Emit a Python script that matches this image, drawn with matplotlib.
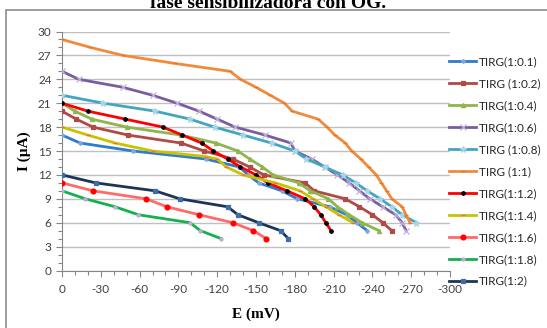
import matplotlib
matplotlib.use("Agg")
import matplotlib.pyplot as plt
from matplotlib.patches import Rectangle
from matplotlib.ticker import MultipleLocator

# ---- data (E in mV, I in uA) ----
e_01 = [0, -14, -55, -111, -137, -144, -152, -170, -182, -207, -220, -228, -236]
i_01 = [17, 16, 15, 14, 13, 12, 11, 10, 9, 8, 7, 6, 5]

e_02 = [0, -11, -24, -51, -92, -110, -132, -145, -156, -188, -195, -219, -230, -240, -248, -255]
i_02 = [20, 19, 18, 17, 16, 15, 14, 13, 12, 11, 10, 9, 8, 7, 6, 5]

e_04 = [0, -10, -23, -50, -92, -119, -136, -145, -155, -163, -183, -192, -206, -213, -222, -232, -245]
i_04 = [21, 20, 19, 18, 17, 16, 15, 14, 13, 12, 11, 10, 9, 8, 7, 6, 5]

e_06 = [0, -13, -47, -70, -89, -106, -120, -134, -157, -177, -180, -193, -203, -213, -222, -230, -238, -248, -258, -263, -266]
i_06 = [25, 24, 23, 22, 21, 20, 19, 18, 17, 16, 15, 14, 13, 12, 11, 10, 9, 8, 7, 6, 5]

e_08 = [0, -32, -72, -99, -118, -140, -162, -180, -189, -203, -217, -227, -236, -246, -255, -263, -274]
i_08 = [22, 21, 20, 19, 18, 17, 16, 15, 14, 13, 12, 11, 10, 9, 8, 7, 6]

e_1 = [0, -22, -47, -87, -130, -138, -150, -161, -172, -178, -198, -205, -211, -219, -224, -231, -237, -243, -247, -251, -255, -263, -266, -269]
i_1 = [29, 28, 27, 26, 25, 24, 23, 22, 21, 20, 19, 18, 17, 16, 15, 14, 13, 12, 11, 10, 9, 8, 7, 6]

e_12 = [0, -20, -49, -78, -93, -108, -117, -128, -138, -150, -159, -174, -188, -195, -200, -204, -208]
i_12 = [21, 20, 19, 18, 17, 16, 15, 14, 13, 12, 11, 10, 9, 8, 7, 6, 5]

e_14 = [0, -20, -41, -70, -111, -120, -127, -140, -165, -184, -194, -204, -214, -225]
i_14 = [18, 17, 16, 15, 14.3, 14, 13, 12, 11, 10, 9, 8, 7, 6]

e_16 = [0, -24, -65, -81, -106, -132, -148, -158]
i_16 = [11, 10, 9, 8, 7, 6, 5, 4]

e_18 = [0, -18, -41, -59, -99, -107, -123]
i_18 = [10, 9, 8, 7, 6, 5, 4]

e_2 = [0, -26, -72, -91, -128, -136, -152, -169, -175]
i_2 = [12, 11, 10, 9, 8, 7, 6, 5, 4]

labels = ["TIRG(1:0.1)", "TIRG (1:0.2)", "TIRG(1:0.4)", "TIRG(1:0.6)", "TIRG (1:0.8)",
          "TIRG (1:1)", "TIRG(1:1.2)", "TIRG(1:1.4)", "TIRG(1:1.6)", "TIRG(1:1.8)", "TIRG(1:2)"]
x_ticks = [0, -30, -60, -90, -120, -150, -180, -210, -240, -270, -300]
y_ticks = [0, 3, 6, 9, 12, 15, 18, 21, 24, 27, 30]

series = [
    (e_01, i_01, "#2f7bd0", "P", "#7fa9dc", "#7fa9dc", 2.5),
    (e_02, i_02, "#b04a46", "s", "#b04a46", "#b04a46", 2.5),
    (e_04, i_04, "#8fb54c", "^", "#8fb54c", "#8fb54c", 3),
    (e_06, i_06, "#7a5c9f", "x", "#c0b0dc", "#c0b0dc", 5),
    (e_08, i_08, "#43a6c0", "*", "#a8d4e6", "#a8d4e6", 5),
    (e_1, i_1, "#f28a3c", "_", "#e07a30", "#e07a30", 3),
    (e_12, i_12, "#ff0000", "o", "#000000", "#000000", 2.5),
    (e_14, i_14, "#c6c400", "_", "#ff6060", "#ff6060", 3),
    (e_16, i_16, "#ff6b6b", "o", "#ff0000", "#ff0000", 3.5),
    (e_18, i_18, "#13b14f", "o", "#c8a8d8", "#c8a8d8", 2.2),
    (e_2, i_2, "#1c3557", "s", "#3c6ea8", "#3c6ea8", 2.5),
]

W, H = 547, 328
fig = plt.figure(figsize=(W / 100, H / 100), dpi=100)

# chart-area border
fig.patches.append(Rectangle((6 / W, -0.1), 1.2, 1.1 - 10 / H, transform=fig.transFigure,
                             fill=False, edgecolor="#8c8c8c", linewidth=1.2, zorder=0))

fig.text(268 / W, 1 - 8.5 / H, "fase sensibilizadora con OG.", ha="center", va="baseline",
         fontsize=14, fontweight="bold", family="Liberation Serif")

ax = fig.add_axes([62 / W, 1 - 270.5 / H, (450 - 62) / W, (270.5 - 31.5) / H])

for (e, i, c, m, mfc, mec, ms), lab in zip(series, labels):
    ax.plot(e, i, color=c, linewidth=2.0, marker=m, markersize=ms, markerfacecolor=mfc,
            markeredgecolor=mec, markeredgewidth=0.9, label=lab, zorder=3)

ax.set_xlim(0, -300)
ax.set_ylim(0, 30)
ax.set_xticks(x_ticks)
ax.set_xticklabels([str(v) for v in x_ticks])
ax.set_yticks(y_ticks)
ax.set_yticklabels([str(v) for v in y_ticks])
ax.xaxis.set_minor_locator(MultipleLocator(10))
ax.yaxis.set_minor_locator(MultipleLocator(1))
ax.grid(axis="y", which="major", color="#c0c0c0", linewidth=1.0, zorder=0)
for s in ["top", "right"]:
    ax.spines[s].set_visible(False)
for s in ["left", "bottom"]:
    ax.spines[s].set_color("#868686")
    ax.spines[s].set_linewidth(0.8)
ax.tick_params(axis="both", which="both", direction="out", color="#868686", width=0.8)
ax.tick_params(axis="both", which="major", length=4, labelsize=8.5, labelcolor="#404040")
ax.tick_params(axis="both", which="minor", length=3)
ax.tick_params(axis="x", which="major", pad=6)
for t in ax.get_xticklabels() + ax.get_yticklabels():
    t.set_family("Lato")

ax.set_xlabel("E (mV)", fontsize=11, fontweight="bold", family="Liberation Serif", labelpad=9)
ax.set_ylabel("I (µA)", fontsize=11, fontweight="bold", family="Liberation Serif", labelpad=5)

leg = ax.legend(loc="upper left", bbox_to_anchor=(449 / W, 1 - 56 / H), bbox_transform=fig.transFigure,
                frameon=False, fontsize=8.5, numpoints=1, handlelength=2.3, handletextpad=0.2,
                labelspacing=0.93, borderpad=0, borderaxespad=0)
for t in leg.get_texts():
    t.set_family("Lato")
    t.set_color("#262626")

fig.savefig("out.png", dpi=100)
